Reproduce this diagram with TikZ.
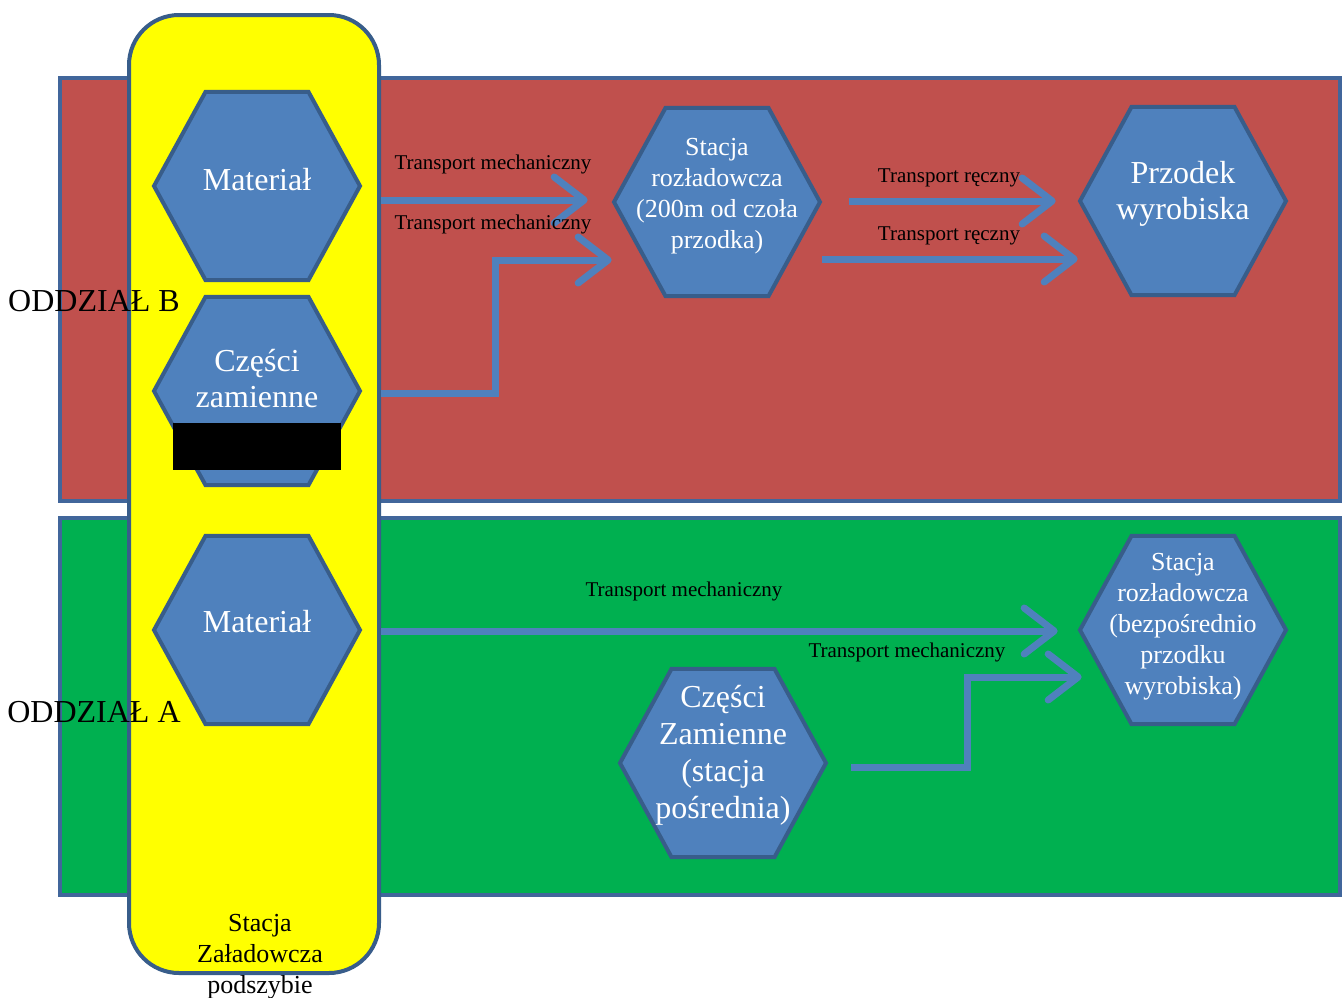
\documentclass[tikz,border=0pt]{standalone}
\usepackage{fontspec}
\setmainfont{Liberation Serif}
\usetikzlibrary{shapes.geometric,arrows.meta,calc}

\definecolor{redzone}{HTML}{C0504D}
\definecolor{greenzone}{HTML}{00B050}
\definecolor{zoneline}{HTML}{41669B}
\definecolor{hexfill}{HTML}{4F81BD}
\definecolor{hexline}{HTML}{385D8A}
\definecolor{flowblue}{HTML}{4F81BD}
\definecolor{stationyellow}{HTML}{FFFF00}

\tikzset{
  zone/.style={draw=zoneline, line width=4pt, inner sep=0pt},
  hexa/.style={regular polygon, regular polygon sides=6, minimum size=206pt,
    inner sep=0pt, draw=hexline, fill=hexfill, line width=4pt,
    yscale=1.055, transform shape},
  hextext/.style={text=white, align=center, inner sep=0pt},
  flow/.style={draw=flowblue, line width=7pt,
    -{Straight Barb[length=30pt, width=46pt, round]}},
  flowlabel/.style={font=\fontsize{21}{25}\selectfont, inner sep=0pt}
}

\begin{document}
\begin{tikzpicture}[x=1pt, y=-1pt]

  \useasboundingbox (0,0) rectangle (1342,997);

  % Zones
  \node[zone, fill=redzone, minimum width=1280pt, minimum height=423pt] (oddzB) at (700,289.5) {};
  \node[zone, fill=greenzone, minimum width=1280pt, minimum height=377pt] (oddzA) at (700,706.5) {};

  % Loading station
  \node[draw=hexline, line width=4pt, fill=stationyellow, rounded corners=50pt,
        minimum width=250pt, minimum height=958pt] (zal) at (254,494) {};
  \node[align=center, inner sep=0pt, font=\fontsize{26}{31}\selectfont] (zaltxt) at (260,957)
    {Stacja\\Załadowcza\\podszybie};

  % Hexagons
  \node[hexa] (matB) at (257,186) {};
  \node[hexa] (czB) at (257,391) {};
  \node[hexa] (matA) at (257,630) {};
  \node[hexa] (rozB) at (717,202) {};
  \node[hexa] (przB) at (1183,201) {};
  \node[hexa] (rozA) at (1183,630) {};
  \node[hexa] (czA) at (723,763) {};

  \node[hextext, font=\fontsize{32}{36}\selectfont] at ($(matB)+(0,-6)$) {Materiał};
  \node[hextext, font=\fontsize{32}{36}\selectfont] at ($(czB)+(0,-12)$) {Części\\zamienne};
  \node[hextext, font=\fontsize{32}{36}\selectfont] at ($(matA)+(0,-8)$) {Materiał};
  \node[hextext, font=\fontsize{26}{31}\selectfont] at ($(rozB)+(0,-6)$) {Stacja\\rozładowcza\\(200m od czoła\\przodka)};
  \node[hextext, font=\fontsize{32}{36}\selectfont] at ($(przB)+(0,-7)$) {Przodek\\wyrobiska};
  \node[hextext, font=\fontsize{26}{31}\selectfont] at ($(rozA)+(0,-3)$) {Stacja\\rozładowcza\\(bezpośrednio\\przodku\\wyrobiska)};
  \node[hextext, font=\fontsize{32}{37}\selectfont] at ($(czA)+(0,-8)$) {Części\\Zamienne\\(stacja\\pośrednia)};

  % Hidden part
  \fill[black] (173,423) rectangle (341,470);

  % Flows in zone B
  \draw[flow] (zal.east |- 0,200) -- ($(rozB.west)+(-24,-2)$);
  \draw[flow, line cap=butt] (zal.east |- 0,393) -- ++(114,0) |- ($(rozB.west)+(0,58)$);
  \draw[flow] ($(rozB.east)+(27,-1)$) -- ($(przB.west)+(-22,0)$);
  \draw[flow] (rozB.east |- 0,259) -- (przB.west |- 0,259);

  % Flows in zone A
  \draw[flow] (zal.east |- 0,631) -- ($(rozA.west)+(-20,1)$);
  \draw[flow] ($(czA.east)+(23,4)$) -- ++(116,0) |- ($(rozA.west)+(4,47)$);

  % Flow labels
  \node[flowlabel] at (493,164) {Transport mechaniczny};
  \node[flowlabel] at (493,224) {Transport mechaniczny};
  \node[flowlabel] at (949,178) {Transport ręczny};
  \node[flowlabel] at (949,236) {Transport ręczny};
  \node[flowlabel] at (684,591) {Transport mechaniczny};
  \node[flowlabel] at (907,652) {Transport mechaniczny};

  % Zone names
  \node[inner sep=0pt, font=\fontsize{32}{36}\selectfont] at (94,301) {ODDZIAŁ B};
  \node[inner sep=0pt, font=\fontsize{32}{36}\selectfont] at (94,712) {ODDZIAŁ A};

\end{tikzpicture}
\end{document}
